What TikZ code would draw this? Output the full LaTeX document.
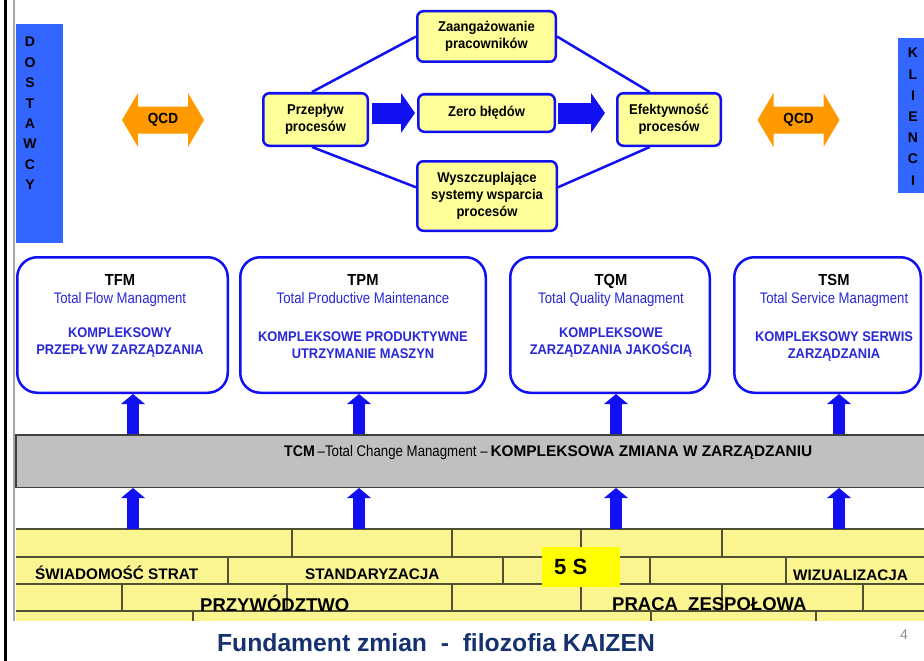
\documentclass[tikz,border=0pt]{standalone}
\usepackage{fontspec}
\setmainfont{Liberation Sans}
\newfontfamily\nf{Liberation Sans}[FakeStretch=0.86]
\newfontfamily\nfb{Liberation Sans}[FakeStretch=0.92]
\usetikzlibrary{arrows.meta}
\definecolor{bblue}{RGB}{16,16,240}
\definecolor{tblue}{RGB}{40,40,215}
\definecolor{sideblue}{RGB}{51,102,255}
\definecolor{lyellow}{RGB}{255,255,153}
\definecolor{brick}{RGB}{250,245,145}
\definecolor{bandgray}{RGB}{192,192,192}
\definecolor{qorange}{RGB}{255,153,0}
\definecolor{navy}{RGB}{22,50,110}
\definecolor{brickline}{RGB}{80,80,50}
\definecolor{fivey}{RGB}{255,255,0}
\definecolor{pggray}{RGB}{140,140,140}
\newcommand\myfs[2]{\fontsize{#1}{#2}\selectfont}
\begin{document}
\begin{tikzpicture}[x=1pt,y=-1pt,
 ybox/.style={draw=bblue,line width=2.5pt,fill=lyellow,rounded corners=6pt,inner sep=0pt,align=center,font=\nfb\bfseries\myfs{14.2}{17}},
 bigbox/.style={draw=bblue,line width=2.5pt,fill=white,rounded corners=20pt,inner sep=0pt,minimum height=135.5pt},
 btext/.style={anchor=north,inner sep=0pt,align=center,text=tblue,font=\nf\myfs{15.3}{17.5}},
 link/.style={draw=bblue,line width=2.5pt},
 fatr/.style={draw=bblue,line width=21pt,-{Triangle[width=40pt 0,length=14pt 0,line width=0pt 0]}},
 uparr/.style={draw=bblue,line width=12pt,-{Triangle[width=24pt 0,length=10pt 0,line width=0pt 0]}},
 sidebar/.style={fill=sideblue,inner sep=0pt},
 sidelet/.style={inner sep=0pt,font=\bfseries\myfs{14}{14}},
 qcdtext/.style={inner sep=0pt,font=\nfb\bfseries\myfs{14.7}{15}},
 bricktext/.style={anchor=base west,inner sep=0pt,font=\bfseries\myfs{15.3}{16}},
 bigbricktext/.style={anchor=base west,inner sep=0pt,font=\bfseries\myfs{18.5}{19}},
 bline/.style={draw=brickline,line width=1.2pt},
]
\useasboundingbox (0,0) rectangle (924,661);
% frame lines
\coordinate (ft) at (5.5,0); \coordinate (fb) at (5.5,661);
\draw[line width=3.5pt] (ft) -- (fb);
\coordinate (gt) at (14,0); \coordinate (gb) at (14,621);
\draw[black!35, line width=1.8pt] (gt) -- (gb);

% side bars
\node[sidebar, minimum width=47pt, minimum height=219pt] (dost) at (39.5,133.5) {};
\foreach \l [count=\i from 0] in {D,O,S,T,A,W,C,Y}
  \node[sidelet] (d\i) at (30, 42+20.4*\i) {\l};
\node[sidebar, minimum width=32pt, minimum height=155pt] (kli) at (914,115.5) {};
\foreach \l [count=\i from 0] in {K,L,I,E,N,C,I}
  \node[sidelet] (k\i) at (913, 53+21.2*\i) {\l};

% QCD arrows
\fill[qorange] (163,120) ++(-41,0) -- ++(16,-27) -- ++(0,13.5) -- ++(50,0) -- ++(0,-13.5) -- ++(16,27) -- ++(-16,27) -- ++(0,-13.5) -- ++(-50,0) -- ++(0,13.5) -- cycle;
\node[qcdtext] (qcdl) at (163,120) {QCD};
\fill[qorange] (798.5,120) ++(-41,0) -- ++(16,-27) -- ++(0,13.5) -- ++(50,0) -- ++(0,-13.5) -- ++(16,27) -- ++(-16,27) -- ++(0,-13.5) -- ++(-50,0) -- ++(0,13.5) -- cycle;
\node[qcdtext] (qcdr) at (798.5,120) {QCD};

% yellow boxes
\node[ybox, minimum width=104.5pt, minimum height=52.5pt] (p) at (315.5,119.5) {Przepływ\\procesów};
\node[ybox, minimum width=136.5pt, minimum height=37.5pt] (z0) at (486.5,113) {Zero błędów};
\node[ybox, minimum width=138.5pt, minimum height=50.5pt] (za) at (486.5,36.5) {Zaangażowanie\\pracowników};
\node[ybox, minimum width=139.5pt, minimum height=69.5pt] (wy) at (487,196) {Wyszczuplające\\systemy wsparcia\\procesów};
\node[ybox, minimum width=103.5pt, minimum height=52.5pt] (ef) at (669,119.5) {Efektywność\\procesów};

% links
\draw[link] ([xshift=-3.5pt]p.north) -- (za.west);
\draw[link] ([xshift=-3.5pt]p.south) -- (wy.173);
\draw[link] (za.east) -- (ef.125);
\draw[link] (wy.7) -- (ef.235);

% fat arrows
\draw[fatr, shorten <=3pt, shorten >=2pt] (p.east |- z0.west) -- (z0.west);
\draw[fatr, shorten <=2pt, shorten >=11pt] (z0.east) -- (z0.east -| ef.west);

% big boxes
\node[bigbox, minimum width=210.5pt] (tfm) at (122.5,325) {};
\node[bigbox, minimum width=245.5pt] (tpm) at (363,325) {};
\node[bigbox, minimum width=199.5pt] (tqm) at (610,325) {};
\node[bigbox, minimum width=186.5pt] (tsm) at (827.5,325) {};

\node[btext] (tfmT) at (120,274.5) {\textcolor{black}{\nfb\bfseries\myfs{16}{17.5}TFM}\\Total Flow Managment\\[16.5pt]{\nfb\bfseries\myfs{14}{17.5}KOMPLEKSOWY}\\{\nfb\bfseries\myfs{14}{17.5}PRZEPŁYW ZARZĄDZANIA}};
\node[btext] (tpmT) at (363,274.5) {\textcolor{black}{\nfb\bfseries\myfs{16}{17.5}TPM}\\Total Productive Maintenance\\[20.5pt]{\nfb\bfseries\myfs{14}{17.5}KOMPLEKSOWE PRODUKTYWNE}\\{\nfb\bfseries\myfs{14}{17.5}UTRZYMANIE MASZYN}};
\node[btext] (tqmT) at (611,274.5) {\textcolor{black}{\nfb\bfseries\myfs{16}{17.5}TQM}\\Total Quality Managment\\[16.5pt]{\nfb\bfseries\myfs{14}{17.5}KOMPLEKSOWE}\\{\nfb\bfseries\myfs{14}{17.5}ZARZĄDZANIA JAKOŚCIĄ}};
\node[btext] (tsmT) at (834,274.5) {\textcolor{black}{\nfb\bfseries\myfs{16}{17.5}TSM}\\Total Service Managment\\[20.5pt]{\nfb\bfseries\myfs{14}{17.5}KOMPLEKSOWY SERWIS}\\{\nfb\bfseries\myfs{14}{17.5}ZARZĄDZANIA}};

% TCM band
\node[fill=bandgray, draw=black!75, line width=1.5pt, inner sep=0pt, minimum width=914pt, minimum height=52.5pt] (tcm) at (473,461) {};
\node[anchor=base west, inner sep=0pt] (tcmT) at (284,456.5) {{\nfb\bfseries\myfs{15.4}{16}TCM} {\nf\myfs{15.4}{16}–Total Change Managment –} {\bfseries\myfs{15.4}{16}KOMPLEKSOWA ZMIANA W ZARZĄDZANIU}};

% foundation bricks
\node[fill=brick, inner sep=0pt, minimum width=914pt, minimum height=92pt] (found) at (473,575) {};
\foreach \yy in {529,557,584,611} \draw[bline] (16,\yy) -- (924,\yy);
\foreach \xx in {292,452,581,722} \draw[bline] (\xx,529) -- (\xx,557);
\foreach \xx in {228,503,650,786} \draw[bline] (\xx,557) -- (\xx,584);
\foreach \xx in {122,287,452,581,722,863} \draw[bline] (\xx,584) -- (\xx,611);
\foreach \xx in {193,651,816} \draw[bline] (\xx,611) -- (\xx,621);

\node[fill=fivey, inner sep=0pt, minimum width=78pt, minimum height=40pt] (fives) at (581,567) {};
\node[anchor=base west, inner sep=0pt, font=\bfseries\myfs{22}{22}] (fivesT) at (554,574.5) {5 S};

\node[bricktext] (swi) at (35,579.5) {ŚWIADOMOŚĆ STRAT};
\node[bricktext] (sta) at (305,579) {STANDARYZACJA};
\node[bricktext] (wiz) at (793,580) {WIZUALIZACJA};
\node[bigbricktext] (prz) at (200,611) {PRZYWÓDZTWO};
\node[bigbricktext] (pra) at (612,610.5) {PRACA\ \ ZESPOŁOWA};

% up arrows
\coordinate (c1) at (133,0);
\coordinate (c2) at (359,0);
\coordinate (c3) at (616,0);
\coordinate (c4) at (839,0);
\draw[uparr] (c1 |- tcm.north) -- (c1 |- tfm.south);
\draw[uparr] (c2 |- tcm.north) -- (c2 |- tpm.south);
\draw[uparr] (c3 |- tcm.north) -- (c3 |- tqm.south);
\draw[uparr] (c4 |- tcm.north) -- (c4 |- tsm.south);
\draw[uparr] (c1 |- found.north) -- (c1 |- tcm.south);
\draw[uparr] (c2 |- found.north) -- (c2 |- tcm.south);
\draw[uparr] (c3 |- found.north) -- (c3 |- tcm.south);
\draw[uparr] (c4 |- found.north) -- (c4 |- tcm.south);

% title
\node[anchor=base, inner sep=0pt, text=navy, font=\bfseries\myfs{24.7}{26}] (title) at (436,651) {Fundament zmian\ \ -\ \ filozofia KAIZEN};
\node[inner sep=0pt, text=pggray, font=\myfs{14}{14}] (pg) at (904,635) {4};
\end{tikzpicture}
\end{document}
